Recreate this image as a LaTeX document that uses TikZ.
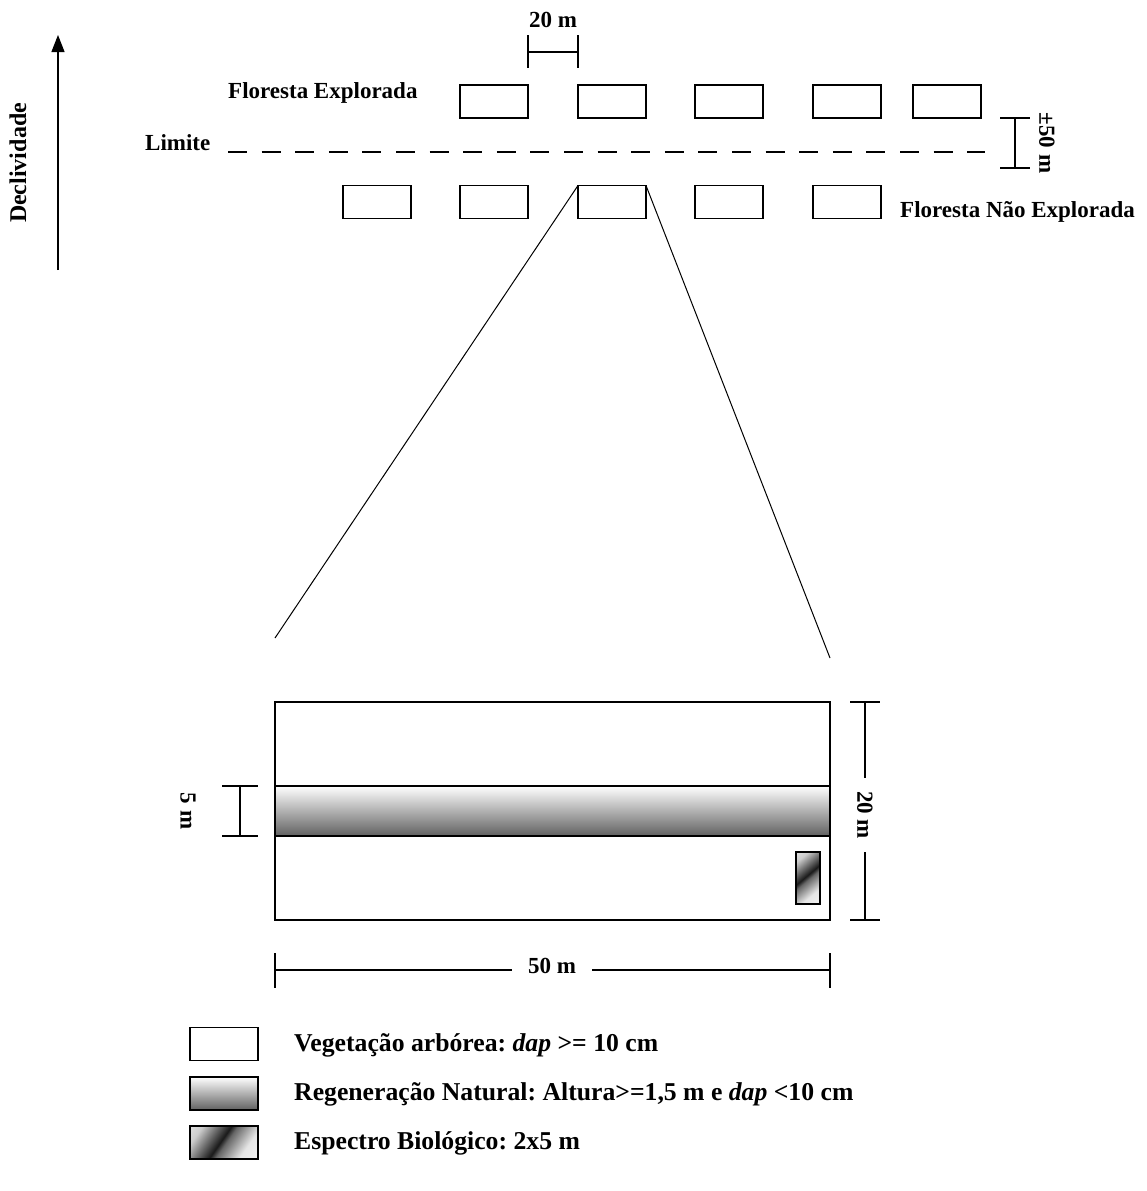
\documentclass[tikz,border=0pt]{standalone}
\usepackage{fontspec}
\setmainfont{Liberation Serif}
\usetikzlibrary{arrows.meta}
\frenchspacing
\pgfdeclarehorizontalshading{diagsh}{100bp}{color(0bp)=(white); color(25bp)=(white!80!black); color(47bp)=(black!90); color(52bp)=(black!60); color(70bp)=(white!90!black); color(100bp)=(white)}
\begin{document}
\begin{tikzpicture}[x=1pt,y=-1pt,
  font=\fontsize{23}{27}\selectfont\bfseries,
  plotbox/.style={draw,line width=1.3pt,minimum width=68pt,minimum height=33pt,inner sep=0pt,outer sep=0pt},
  ln/.style={line width=1.2pt},
  thin/.style={line width=1pt},
  lbl/.style={inner sep=0pt},
  legtext/.style={inner sep=0pt,anchor=west,font=\fontsize{25.7}{30}\selectfont\bfseries}]
\useasboundingbox (0,0) rectangle (1146,1191);

% slope arrow
\coordinate (arrB) at (58,270);
\coordinate (arrT) at (58,35);
\draw[ln,-{Triangle[width=13pt,length=17pt]}] (arrB) -- (arrT);
\node[lbl,rotate=90,font=\fontsize{24}{28}\selectfont\bfseries] (decl) at (18,163) {Declividade};

% plots, exploited forest (top row)
\node[plotbox] (t1) at (494,101.5) {};
\node[plotbox] (t2) at (612,101.5) {};
\node[plotbox] (t3) at (729,101.5) {};
\node[plotbox] (t4) at (847,101.5) {};
\node[plotbox] (t5) at (947,101.5) {};
% plots, unexploited forest (bottom row)
\node[plotbox] (b1) at (377,202) {};
\node[plotbox] (b2) at (494,202) {};
\node[plotbox] (b3) at (612,202) {};
\node[plotbox] (b4) at (729,202) {};
\node[plotbox] (b5) at (847,202) {};

\node[lbl,anchor=west] (fe) at (228,93) {Floresta Explorada};
\node[lbl,anchor=west] (lim) at (145,143) {Limite};
\node[lbl,anchor=west] (fne) at (900,212) {Floresta Não Explorada};

% boundary
\coordinate (limA) at (228,152);
\coordinate (limB) at (985,152);
\draw[ln,dash pattern=on 19pt off 14.6pt] (limA) -- (limB);

% 20 m spacing dimension
\draw[ln] (t1.east |- 0,35) -- (t1.east |- 0,68);
\draw[ln] (t2.west |- 0,35) -- (t2.west |- 0,68);
\draw[ln] (t1.east |- 0,52) -- (t2.west |- 0,52);
\node[lbl] (d20) at (553,20) {20 m};

% +-50 m dimension
\draw[ln] (1000,118) -- (1030,118);
\draw[ln] (1000,168) -- (1030,168);
\draw[ln] (1015,118) -- (1015,168);
\node[lbl,rotate=-90] (d50v) at (1047,143) {±50 m};

% zoom lines
\coordinate (zL) at (275,638);
\coordinate (zR) at (830,658);
\draw[thin] (b3.north west) -- (zL);
\draw[thin] (b3.north east) -- (zR);

% detailed plot
\shade[top color=white, bottom color=black!62] (275,786) rectangle (830,836);
\draw[ln] (275,702) rectangle (830,920);
\draw[ln] (275,786) -- (830,786);
\draw[ln] (275,836) -- (830,836);
\shade[shading=diagsh, shading angle=-50] (796,852) rectangle (820,904);
\draw[ln] (796,852) rectangle (820,904);

% 5 m dimension
\draw[ln] (222,786) -- (258,786);
\draw[ln] (222,836) -- (258,836);
\draw[ln] (240,786) -- (240,836);
\node[lbl,rotate=-90] (d5) at (188,811) {5 m};

% 20 m dimension (right)
\draw[ln] (850,702) -- (880,702);
\draw[ln] (850,920) -- (880,920);
\draw[ln] (865,702) -- (865,778);
\draw[ln] (865,852) -- (865,920);
\node[lbl,rotate=-90] (d20v) at (865,815) {20 m};

% 50 m dimension
\draw[ln] (275,953) -- (275,988);
\draw[ln] (830,953) -- (830,988);
\draw[ln] (275,970) -- (512,970);
\draw[ln] (592,970) -- (830,970);
\node[lbl] (d50) at (552,966) {50 m};

% legend
\node[plotbox] (lg1) at (224,1044) {};
\node[plotbox,top color=white,bottom color=black!62] (lg2) at (224,1093.5) {};
\node[plotbox,shading=diagsh,shading angle=-35] (lg3) at (224,1142.5) {};
\node[legtext] (lt1) at (294,1045) {Vegetação arbórea: \textit{dap} >= 10 cm};
\node[legtext] (lt2) at (294,1094) {Regeneração Natural: Altura>=1,5 m e \textit{dap} <10 cm};
\node[legtext] (lt3) at (294,1143) {Espectro Biológico: 2x5 m};
\end{tikzpicture}
\end{document}
